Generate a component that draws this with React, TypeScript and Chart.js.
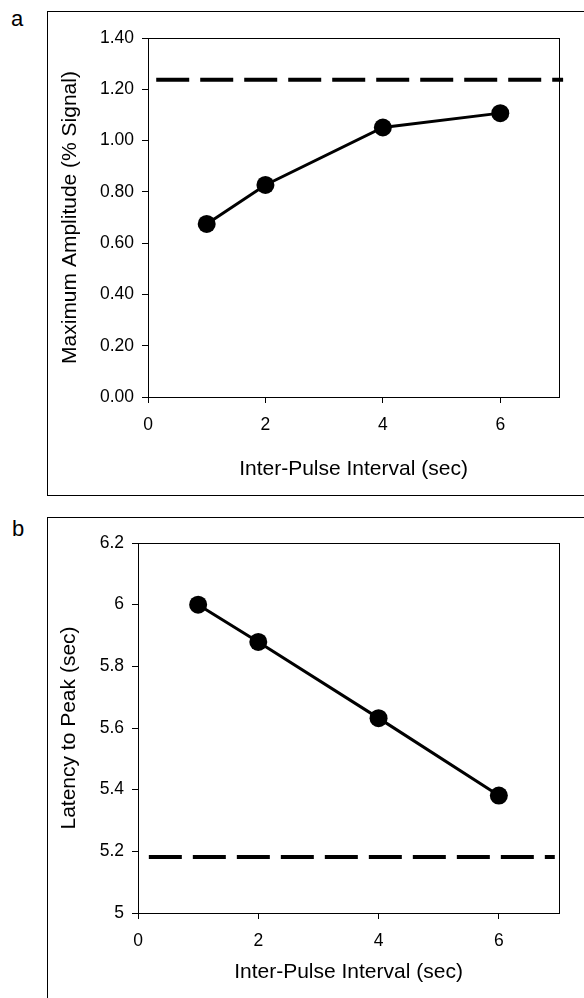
import React, { useEffect, useRef } from "react";
import { Chart, registerables } from "chart.js";

Chart.register(...registerables);

// ---- data ----
const intervalsSec = [1, 2, 4, 6];
const maxAmplitude = [0.675, 0.827, 1.051, 1.107];
const amplitudeReference = 1.237;
const amplitudeRefX = [0.14, 7.07];
const latencyToPeak = [6.0, 5.879, 5.632, 5.381];
const latencyReference = 5.182;
const latencyRefX = [0.18, 6.93];
const xTickValues = [0, 2, 4, 6];
const amplitudeTicks = [0, 0.2, 0.4, 0.6, 0.8, 1.0, 1.2, 1.4];
const latencyTicks = [5, 5.2, 5.4, 5.6, 5.8, 6, 6.2];

const FAMILY = '"Liberation Sans", Arial, Helvetica, sans-serif';

const plotBox = {
  id: "plotBox",
  beforeDatasetsDraw(chart: any) {
    const { ctx, chartArea } = chart;
    const { left, top, right, bottom } = chartArea;
    ctx.save();
    ctx.strokeStyle = "#000";
    ctx.lineWidth = 1;
    ctx.strokeRect(Math.round(left) + 0.5, Math.round(top) + 0.5, Math.round(right - left), Math.round(bottom - top));
    ctx.restore();
  },
};

type PanelProps = {
  top: number;
  height: number;
  padTop: number;
  yAxisWidth: number;
  xAxisHeight: number;
  xTitlePadBottom: number;
  yTitlePadTop: number;
  ys: number[];
  refY: number;
  refX: number[];
  yTicks: number[];
  yMin: number;
  yMax: number;
  yTitle: string;
  fmt: (v: number) => string;
};

function Panel(p: PanelProps) {
  const ref = useRef<HTMLCanvasElement | null>(null);
  useEffect(() => {
    if (!ref.current) return;
    const chart = new Chart(ref.current, {
      type: "scatter",
      data: {
        datasets: [
          {
            data: intervalsSec.map((x, i) => ({ x, y: p.ys[i] })),
            showLine: true,
            borderColor: "#000",
            backgroundColor: "#000",
            borderWidth: 3,
            pointRadius: 9,
            pointBackgroundColor: "#000",
            pointBorderWidth: 0,
            order: 1,
          },
          {
            data: p.refX.map((x) => ({ x, y: p.refY })),
            showLine: true,
            borderColor: "#000",
            borderWidth: 4,
            borderDash: [33, 11],
            pointRadius: 0,
            clip: false,
            order: 2,
          } as any,
        ],
      },
      options: {
        animation: false,
        responsive: false,
        maintainAspectRatio: false,
        layout: { padding: { top: p.padTop, right: 25, left: 0, bottom: 0 } },
        plugins: { legend: { display: false }, tooltip: { enabled: false } },
        scales: {
          x: {
            type: "linear",
            min: 0,
            max: 7,
            afterBuildTicks: (s: any) => {
              s.ticks = xTickValues.map((v) => ({ value: v }));
            },
            afterFit: (s: any) => {
              s.height = p.xAxisHeight;
            },
            ticks: {
              color: "#000",
              font: { size: 17.5, family: FAMILY },
              padding: 12,
              maxRotation: 0,
              autoSkip: false,
              callback: (v: any) => String(v),
            },
            grid: { display: true, drawOnChartArea: false, drawTicks: true, tickLength: 6, color: "#000" },
            border: { display: true, color: "#000", width: 1 },
            title: {
              display: true,
              text: "Inter-Pulse Interval (sec)",
              color: "#000",
              font: { size: 21, family: FAMILY },
              padding: { top: 0, bottom: p.xTitlePadBottom },
            },
          },
          y: {
            type: "linear",
            min: p.yMin,
            max: p.yMax,
            afterBuildTicks: (s: any) => {
              s.ticks = p.yTicks.map((v) => ({ value: v }));
            },
            afterFit: (s: any) => {
              s.width = p.yAxisWidth;
            },
            ticks: {
              color: "#000",
              font: { size: 17.5, family: FAMILY },
              padding: 8,
              autoSkip: false,
              callback: (v: any) => p.fmt(Number(v)),
            },
            grid: { display: true, drawOnChartArea: false, drawTicks: true, tickLength: 6, color: "#000" },
            border: { display: true, color: "#000", width: 1 },
            title: {
              display: true,
              text: p.yTitle,
              color: "#000",
              font: { size: 21, family: FAMILY },
              padding: { top: p.yTitlePadTop, bottom: 0 },
            },
          },
        },
      },
      plugins: [plotBox],
    });
    return () => chart.destroy();
  }, []);
  return (
    <canvas
      ref={ref}
      width={584}
      height={p.height}
      style={{ position: "absolute", left: 0, top: p.top, width: 584, height: p.height }}
    />
  );
}

export default function App() {
  const labelStyle: React.CSSProperties = {
    position: "absolute",
    fontFamily: FAMILY,
    fontSize: 22,
    lineHeight: "22px",
    color: "#000",
  };
  return (
    <div
      style={{
        position: "absolute",
        left: 0,
        top: 0,
        width: 584,
        height: 998,
        overflow: "hidden",
        background: "#fff",
      }}
    >
      <div
        style={{
          position: "absolute",
          left: 47,
          top: 11,
          width: 600,
          height: 485,
          border: "1px solid #000",
          boxSizing: "border-box",
        }}
      />
      <div
        style={{
          position: "absolute",
          left: 47,
          top: 517,
          width: 600,
          height: 600,
          border: "1px solid #000",
          boxSizing: "border-box",
        }}
      />
      <span style={{ ...labelStyle, left: 11, top: 8 }}>a</span>
      <span style={{ ...labelStyle, left: 12, top: 518 }}>b</span>
      <Panel
        top={0}
        height={497}
        padTop={38}
        yAxisWidth={148}
        xAxisHeight={100}
        xTitlePadBottom={15}
        yTitlePadTop={58}
        ys={maxAmplitude}
        refY={amplitudeReference}
        refX={amplitudeRefX}
        yTicks={amplitudeTicks}
        yMin={0}
        yMax={1.4}
        yTitle="Maximum Amplitude (% Signal)"
        fmt={(v) => v.toFixed(2)}
      />
      <Panel
        top={500}
        height={498}
        padTop={43}
        yAxisWidth={138}
        xAxisHeight={85}
        xTitlePadBottom={13}
        yTitlePadTop={57}
        ys={latencyToPeak}
        refY={latencyReference}
        refX={latencyRefX}
        yTicks={latencyTicks}
        yMin={5}
        yMax={6.2}
        yTitle="Latency to Peak (sec)"
        fmt={(v) => String(v)}
      />
    </div>
  );
}
